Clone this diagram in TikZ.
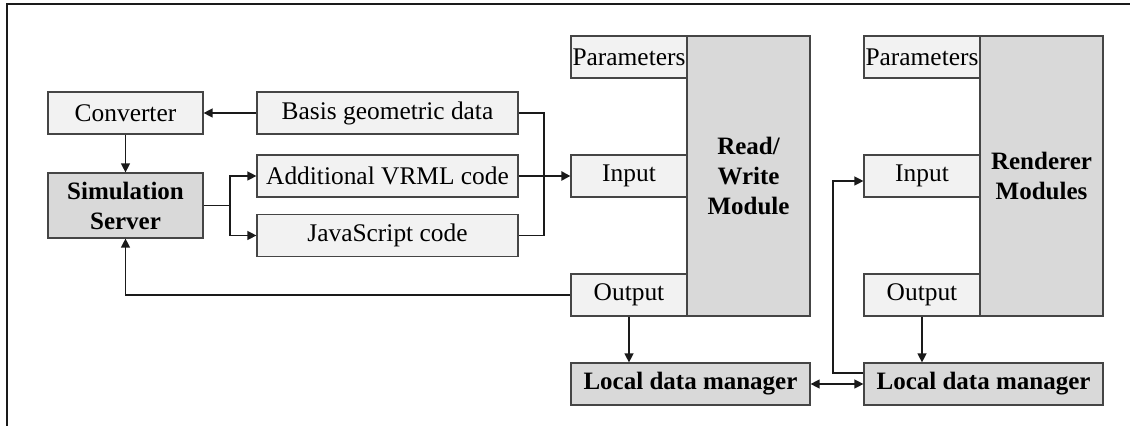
\documentclass[tikz,border=0pt]{standalone}
\usepackage{fontspec}
\setmainfont{Liberation Serif}
\usetikzlibrary{arrows.meta}
\definecolor{lightfill}{HTML}{F2F2F2}
\definecolor{darkfill}{HTML}{D9D9D9}
\definecolor{edgecol}{HTML}{454545}
\definecolor{linecol}{HTML}{1A1A1A}
\begin{document}
\begin{tikzpicture}[x=0.5pt,y=-0.5pt,
  base/.style={draw=edgecol, line width=0.6pt, inner sep=0pt, align=center,
    font=\fontsize{12.7}{15}\selectfont},
  lbox/.style={base, fill=lightfill, minimum height=21pt},
  dbox/.style={base, fill=darkfill, font=\fontsize{12.5}{15}\selectfont\bfseries},
  conn/.style={draw=linecol, line width=0.65pt},
  arr/.style={conn, -{Triangle[length=4.5pt,width=4.5pt]}},
  darr/.style={conn, {Triangle[length=4.5pt,width=4.5pt]}-{Triangle[length=4.5pt,width=4.5pt]}}
]
\useasboundingbox (0,0) rectangle (1130,426);
\draw[line width=1pt, draw=linecol] (7,440) -- (7,4.3) -- (1140,4.3);

% left part
\node[lbox, minimum width=77.5pt] (conv) at (125.5,113) {Converter};
\node[dbox, minimum width=77.5pt, minimum height=32.5pt] (sim) at (125.5,205.5) {Simulation\\Server};
\node[lbox, minimum width=130.5pt] (basis) at (387.5,113) {Basis geometric data};
\node[lbox, minimum width=130.5pt] (vrml) at (387.5,176) {Additional VRML code};
\node[lbox, minimum width=130.5pt] (js) at (387.5,235.5) {JavaScript code};

% read/write module
\node[dbox, minimum width=61.5pt, minimum height=140pt] (rw) at (748.5,176) {Read/\\Write\\Module};
\node[lbox, minimum width=58pt] (par1) at (629,57) {Parameters};
\node[lbox, minimum width=58pt] (in1) at (629,176) {Input};
\node[lbox, minimum width=58pt] (out1) at (629,295) {Output};
\node[dbox, minimum width=119.5pt, minimum height=21pt] (ldm1) at (690.5,384) {Local data manager};

% renderer modules
\node[dbox, minimum width=61.5pt, minimum height=140pt] (ren) at (1041.5,176) {Renderer\\Modules};
\node[lbox, minimum width=58pt] (par2) at (922,57) {Parameters};
\node[lbox, minimum width=58pt] (in2) at (922,176) {Input};
\node[lbox, minimum width=58pt] (out2) at (922,295) {Output};
\node[dbox, minimum width=119.5pt, minimum height=21pt] (ldm2) at (983.5,384) {Local data manager};

% helper coordinates
\coordinate (s1) at (230,205.5);
\coordinate (j1) at (544,176);
\coordinate (k) at (833,181);

% connectors
\draw[arr] (basis.west) -- (conv.east);
\draw[arr] (conv.south) -- (sim.north);
\draw[conn] (sim.east) -- (s1);
\draw[arr] (s1) |- (vrml.west);
\draw[arr] (s1) |- (js.west);
\draw[conn] (basis.east) -| (j1) |- (js.east);
\draw[conn] (vrml.east) -- (j1);
\draw[arr, line width=1.3pt] (j1) -- (in1.west);
\draw[arr] (out1.west) -| (sim.south);
\draw[arr] (out1.south) -- (out1.south |- ldm1.north);
\draw[arr] (out2.south) -- (out2.south |- ldm2.north);
\draw[darr] (ldm1.east) -- (ldm2.west);
\draw[arr] ([yshift=5.5pt]ldm2.west) -| (k) -- ([yshift=-2.5pt]in2.west);
\end{tikzpicture}
\end{document}
